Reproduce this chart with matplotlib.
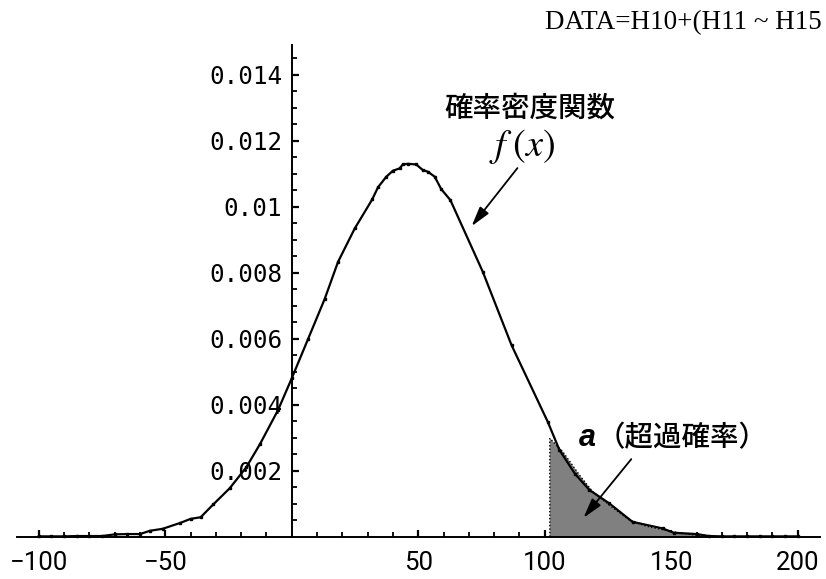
import matplotlib
matplotlib.use("Agg")
import matplotlib.pyplot as plt

# ---- data ----
curve_x = [-100, -95, -90, -85, -80, -75, -70, -65, -60, -56, -51, -44, -40, -36,
           -31, -24.5, -18, -12.6, -5.4, 0, 6.5, 13, 18.3, 24.9, 31.8, 34.1, 37.4,
           40, 42.6, 43.9, 45.9, 49.2, 51.8, 53.8, 56.5, 59.1, 62.7, 75.5, 86.9,
           101.2, 105.8, 112, 117.6, 125.5, 134.7, 146.6, 151, 160, 165, 170, 175,
           180, 185, 190, 195, 200]
curve_y = [0.00001, 0.00001, 0.00001, 0.00002, 0.00002, 0.00002, 0.00007, 0.00008,
           0.00008, 0.00018, 0.00024, 0.00042, 0.00054, 0.00059, 0.00098, 0.00147,
           0.0021, 0.0028, 0.00384, 0.0048, 0.0060, 0.0072, 0.00833, 0.00934,
           0.01022, 0.01059, 0.01091, 0.01109, 0.01116, 0.01128, 0.01130, 0.01128,
           0.01111, 0.01106, 0.01091, 0.01053, 0.0102, 0.00803, 0.0058, 0.00348,
           0.00263, 0.0019, 0.00142, 0.00101, 0.00045, 0.00025, 0.00012, 0.00008,
           0.00002, 0.00001, 0.00001, 0.00001, 0.00001, 0.00001, 0.00001, 0.00001]

tail_x = [102, 102, 107.1, 113.7, 119, 125.5, 133.4, 140, 150.6, 161, 161]
tail_y = [0, 0.00298, 0.00258, 0.00187, 0.00136, 0.00096, 0.00051, 0.00032,
          0.00015, 0.00003, 0]

xticks_major = [-100, -50, 50, 100, 150, 200]
xtick_labels = ["\u2212100", "\u221250", "50", "100", "150", "200"]
yticks_major = [0.002, 0.004, 0.006, 0.008, 0.010, 0.012, 0.014]
ytick_labels = ["0.002", "0.004", "0.006", "0.008", "0.01", "0.012", "0.014"]

title_text = "DATA=H10+(H11 ~ H15"
pdf_label = "確率密度関数"
fx_label = r"$f\;(x)$"
alpha_sym = "a"
alpha_label = "（超過確率）"

plt.rcParams["mathtext.fontset"] = "stix"

W, H = 826, 579
fig = plt.figure(figsize=(W / 100, H / 100), dpi=100)
ax = fig.add_axes([17 / W, (H - 536.7) / H, (820 - 17) / W, (536.7 - 45) / H])
ax.set_xlim(-108.6, 208.8)
ax.set_ylim(0, 0.0149)

ax.fill(tail_x, tail_y, facecolor="#808080", edgecolor="black",
        linestyle=(0, (1, 1.5)), linewidth=1.0, zorder=2)
ax.plot(curve_x, curve_y, color="black", lw=1.6, marker="s", ms=2.0,
        mec="black", mfc="black", zorder=3, clip_on=False)

for s in ["top", "right"]:
    ax.spines[s].set_visible(False)
ax.spines["left"].set_position(("data", 0))
ax.spines["bottom"].set_position(("data", 0))
ax.spines["left"].set_linewidth(1.4)
ax.spines["bottom"].set_linewidth(1.4)

ax.set_xticks(xticks_major)
ax.set_xticklabels(xtick_labels)
ax.set_xticks([v for v in range(-100, 201, 10) if v % 50 != 0], minor=True)
ax.set_yticks(yticks_major)
ax.set_yticklabels(ytick_labels)
ax.set_yticks([k * 0.0005 for k in range(1, 30) if k % 4 != 0], minor=True)

ax.tick_params(axis="both", which="major", direction="in", length=5, width=1.6)
ax.tick_params(axis="both", which="minor", direction="in", length=3.5, width=1.3)
ax.tick_params(axis="x", which="major", pad=10.5)
ax.tick_params(axis="y", which="major", pad=7)
for lab in ax.get_yticklabels():
    lab.set_family(["DejaVu Sans Mono", "DejaVu Sans"])
    lab.set_fontsize(17.5)
for lab in ax.get_xticklabels():
    lab.set_family(["Roboto", "DejaVu Sans"])
    lab.set_fontsize(18.5)

fig.text(545 / W, 1 - 29.3 / H, title_text, family="Liberation Serif",
         fontsize=19.5, ha="left", va="baseline")
fig.text(530 / W, 1 - 108 / H, pdf_label, family=["Noto Sans CJK JP", "DejaVu Sans"],
         fontsize=20.5, weight="medium", ha="center", va="center")
fig.text(522 / W, 1 - 147 / H, fx_label, fontsize=27.5, ha="center", va="center")
fig.text(579 / W, 1 - 437.5 / H, alpha_sym, family="Liberation Sans", style="italic",
         weight="bold", fontsize=22, ha="left", va="center")
fig.text(597 / W, 1 - 437.5 / H, alpha_label, family=["Noto Sans CJK JP", "DejaVu Sans"],
         fontsize=20.5, weight="medium", ha="left", va="center")

arrow = dict(arrowstyle="-|>,head_length=1.0,head_width=0.28", color="black",
             lw=1.3, mutation_scale=12, shrinkA=0, shrinkB=0)
ax.annotate("", xy=(71.1, 0.00941), xytext=(89.2, 0.01117), arrowprops=arrow)
ax.annotate("", xy=(115.3, 0.00057), xytext=(134.2, 0.00235), arrowprops=arrow)

fig.savefig("out.png", dpi=100)
